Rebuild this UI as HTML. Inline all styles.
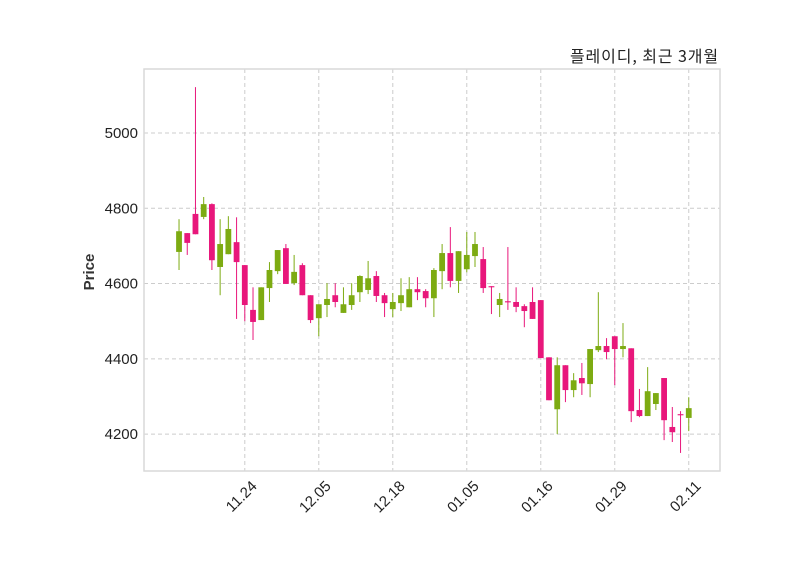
<!DOCTYPE html>
<html><head><meta charset="utf-8"><style>
body{margin:0;background:#fff;}
svg text{font-family:"Liberation Sans","Noto Sans CJK KR",sans-serif;}
</style></head><body>
<svg id="chart" width="800" height="575" xmlns="http://www.w3.org/2000/svg">
<rect width="800" height="575" fill="#fff"/>
<g id="grid"></g>
<g id="candles"></g>
<rect x="144" y="69" width="576" height="402" fill="none" stroke="#d9d9d9" stroke-width="1.5"/>
<g id="axes"></g>
<text x="719" y="62" text-anchor="end" font-size="16" letter-spacing="0.9" fill="#222" style="font-family:'Noto Sans CJK KR',sans-serif">플레이디, 최근 3개월</text>
<text transform="translate(94,272) rotate(-90)" text-anchor="middle" font-size="15" font-weight="bold" fill="#333">Price</text>
</svg>
<script>
const opens  = [4684,4734,4785,4777,4811,4644,4678,4710,4649,4530,4503,4588,4633,4694,4601,4649,4569,4508,4543,4569,4522,4543,4577,4583,4620,4569,4532,4548,4537,4585,4580,4561,4633,4681,4607,4638,4673,4665,4593,4543,4553,4551,4540,4551,4556,4404,4266,4383,4317,4349,4333,4423,4434,4460,4426,4428,4264,4248,4280,4349,4219,4253,4243];
const closes = [4739,4708,4731,4811,4662,4705,4745,4657,4543,4498,4590,4636,4689,4599,4631,4569,4503,4545,4559,4551,4545,4569,4620,4614,4567,4548,4551,4569,4585,4577,4561,4636,4681,4607,4686,4676,4705,4588,4590,4559,4550,4538,4527,4506,4402,4290,4383,4317,4343,4335,4426,4434,4418,4426,4434,4261,4248,4314,4309,4237,4205,4250,4269];
const highs  = [4771,4734,5122,4830,4813,4771,4779,4776,4649,4590,4590,4657,4689,4705,4676,4654,4569,4545,4601,4601,4590,4601,4622,4660,4633,4575,4575,4614,4617,4617,4585,4641,4705,4750,4686,4737,4737,4697,4593,4575,4697,4590,4545,4590,4556,4404,4404,4383,4362,4389,4426,4577,4455,4460,4495,4428,4320,4378,4309,4349,4272,4261,4298];
const lows   = [4636,4676,4731,4771,4636,4569,4678,4506,4500,4450,4503,4551,4625,4599,4596,4569,4495,4460,4511,4537,4522,4530,4551,4572,4551,4511,4511,4527,4537,4556,4537,4511,4585,4590,4575,4630,4644,4575,4519,4511,4530,4524,4484,4506,4402,4290,4200,4285,4298,4304,4298,4418,4399,4330,4404,4232,4245,4248,4264,4184,4179,4150,4208];
const yTicks = [4200,4400,4600,4800,5000];
const xTickIdx = [8,17,26,35,44,53,62];
const xTickLabels = ["11.24","12.05","12.18","01.05","01.16","01.29","02.11"];

const NS="http://www.w3.org/2000/svg";
const L=144,R=720,T=69,B=471;
const xmin=-4.26,xmax=65.8,ymin=4102,ymax=5170;
const xs=i=>L+(i-xmin)/(xmax-xmin)*(R-L);
const ys=v=>B-(v-ymin)/(ymax-ymin)*(B-T);
function mk(tag,attrs,parent){const e=document.createElementNS(NS,tag);for(const k in attrs)e.setAttribute(k,attrs[k]);parent.appendChild(e);return e;}
const grid=document.getElementById('grid'),axes=document.getElementById('axes'),cg=document.getElementById('candles');
yTicks.forEach(v=>{
  const y=ys(v);
  const gl=mk('line',{x1:L,x2:R,y1:y,y2:y,stroke:'#cccccc','stroke-dasharray':'4,3','stroke-width':1},grid);
  
  
  const t=mk('text',{x:L-6,y:y+5,'text-anchor':'end','font-size':15,fill:'#222'},axes);
  t.textContent=v;
  
  
});
xTickIdx.forEach((idx,k)=>{
  const x=xs(idx);
  const gl=mk('line',{x1:x,x2:x,y1:T,y2:B,stroke:'#cccccc','stroke-dasharray':'4,3','stroke-width':1},grid);
  
  
  const ax=x+13,ay=B+16;
  const t=mk('text',{x:ax,y:ay,'text-anchor':'end','font-size':15,fill:'#222',transform:`rotate(-45 ${ax} ${ay})`},axes);
  t.textContent=xTickLabels[k];
  
  
});
const w=5.8;
opens.forEach((o,i)=>{
  const c=closes[i],up=c>=o,col=up?'#7dab12':'#e8177b';
  const x=xs(i);
  const g=mk('g',{},cg);
  
  
  mk('line',{x1:x,x2:x,y1:ys(highs[i]),y2:ys(lows[i]),stroke:col,'stroke-width':1},g);
  const top=ys(Math.max(o,c)),bot=ys(Math.min(o,c));
  mk('rect',{x:x-w/2,y:top,width:w,height:Math.max(bot-top,1),fill:col},g);
});
</script>
</body></html>
